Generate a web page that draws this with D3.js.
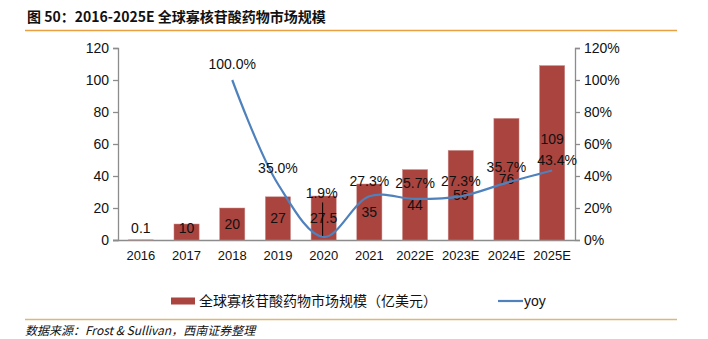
<!DOCTYPE html>
<html>
<head>
<meta charset="utf-8">
<script src="https://cdn.jsdelivr.net/npm/d3@7/dist/d3.min.js"></script>
<style>
  html, body { margin: 0; padding: 0; background: #fff; }
  svg { display: block; }
  text { font-family: "Liberation Sans", Arial, sans-serif; fill: #111; }
  .cjk { font-family: "Noto Sans CJK SC", "Noto Sans", sans-serif; }
</style>
</head>
<body>
<svg id="chart" width="708" height="339"></svg>
<script>
// Global oligonucleotide drug market size (USD 100M) and year-over-year growth
const years = ["2016", "2017", "2018", "2019", "2020", "2021", "2022E", "2023E", "2024E", "2025E"];
const marketSize = [0.1, 10, 20, 27, 27.5, 35, 44, 56, 76, 109];
const yoy = [null, null, 100.0, 35.0, 1.9, 27.3, 25.7, 27.3, 35.7, 43.4];
const leftTicks = [0, 20, 40, 60, 80, 100, 120];
const rightTicks = [0, 20, 40, 60, 80, 100, 120];

const svg = d3.select("#chart");
const margin = { left: 118, right: 133, top: 48, bottom: 99 };
const W = 708, H = 339;
const plotW = W - margin.left - margin.right;
const plotH = H - margin.top - margin.bottom;

const x = d3.scaleBand().domain(years).range([margin.left, margin.left + plotW]).paddingInner(0.45).paddingOuter(0.225);
const xc = d => x(d) + x.bandwidth() / 2;
const yL = d3.scaleLinear().domain([0, 120]).range([margin.top + plotH, margin.top]);
const yR = d3.scaleLinear().domain([0, 120]).range([margin.top + plotH, margin.top]);

// Title and rules
svg.append("text").attr("x", 27).attr("y", 22)
  .style("font-size", "14px").style("font-weight", "bold")
  .attr("class", "cjk")
  .text("图 50：2016-2025E 全球寡核苷酸药物市场规模");
svg.append("line").attr("x1", 25).attr("x2", 677).attr("y1", 30.5).attr("y2", 30.5)
  .attr("stroke", "#E8A040").attr("stroke-width", 1.5);
svg.append("line").attr("x1", 25).attr("x2", 677).attr("y1", 319.5).attr("y2", 319.5)
  .attr("stroke", "#DDB67A").attr("stroke-width", 1.5);

// Axes
const axisColor = "#8c8c8c";
const gL = svg.append("g").attr("transform", `translate(${margin.left},0)`)
  .call(d3.axisLeft(yL).tickValues(leftTicks).tickSize(5).tickPadding(4));
const gR = svg.append("g").attr("transform", `translate(${margin.left + plotW},0)`)
  .call(d3.axisRight(yR).tickValues(rightTicks).tickSize(5).tickPadding(4).tickFormat(d => d + "%"));
const gX = svg.append("g").attr("transform", `translate(0,${margin.top + plotH})`)
  .call(d3.axisBottom(x).tickSize(0).tickPadding(11));
[gL, gR, gX].forEach(g => {
  g.selectAll("path").attr("stroke", axisColor).attr("stroke-width", 1.3);
  g.selectAll("line").attr("stroke", axisColor).attr("stroke-width", 1.3);
  g.selectAll("text").style("font-size", "14px").style("font-family", "Liberation Sans, Arial, sans-serif").attr("fill", "#111");
});
gX.select("path").attr("d", `M${margin.left - 5},0.5H${margin.left + plotW}`);
gX.selectAll("text").style("font-size", "13px");

// Bars
svg.append("g").selectAll("rect").data(years).join("rect")
  .attr("x", d => x(d))
  .attr("width", x.bandwidth())
  .attr("y", (d, i) => yL(marketSize[i]))
  .attr("height", (d, i) => yL(0) - yL(marketSize[i]))
  .attr("fill", "#A9443F")
  .attr("stroke", "#c98a87").attr("stroke-width", 0.5);

// Bar value labels, centred in the bar; small bars keep the label just above the base
const barNudge = { "2025E": -14 };
svg.append("g").selectAll("text").data(years).join("text")
  .attr("x", d => xc(d))
  .attr("y", (d, i) => Math.min((yL(marketSize[i]) + yL(0)) / 2, yL(0) - 12) + (barNudge[d] || 0))
  .attr("dy", "0.35em")
  .attr("text-anchor", "middle")
  .style("font-size", "14px")
  .text((d, i) => marketSize[i]);

// YoY growth line
const pts = years.map((d, i) => ({ year: d, v: yoy[i] })).filter(p => p.v !== null);
const line = d3.line().x(p => xc(p.year)).y(p => yR(p.v)).curve(d3.curveCatmullRom.alpha(0.5));
svg.append("path").datum(pts).attr("d", line)
  .attr("fill", "none").attr("stroke", "#4F81BD").attr("stroke-width", 2.2);

// YoY labels, with a leader line where a label sits away from its point
const yoyNudge = { "2020": { dx: -2, dy: -28, leader: true }, "2025E": { dx: 5, dy: 5 } };
const gY = svg.append("g");
pts.forEach(p => {
  const n = yoyNudge[p.year] || { dx: 0, dy: 0 };
  const lx = xc(p.year) + n.dx, ly = yR(p.v) - 15.5 + n.dy;
  if (n.leader) {
    gY.append("line").attr("x1", lx + 1).attr("x2", lx + 1)
      .attr("y1", ly + 9).attr("y2", yR(p.v) - 1)
      .attr("stroke", "#000").attr("stroke-width", 1);
  }
  gY.append("text").attr("x", lx).attr("y", ly).attr("dy", "0.35em")
    .attr("text-anchor", "middle").style("font-size", "14px")
    .text(p.v.toFixed(1) + "%");
});

// Legend
const lg = svg.append("g");
lg.append("rect").attr("x", 171).attr("y", 297.5).attr("width", 24).attr("height", 7).attr("fill", "#A9443F");
lg.append("text").attr("class", "cjk").attr("x", 199).attr("y", 301).attr("dy", "0.35em")
  .style("font-size", "14px").text("全球寡核苷酸药物市场规模（亿美元）");
lg.append("line").attr("x1", 498).attr("x2", 523).attr("y1", 301).attr("y2", 301)
  .attr("stroke", "#4F81BD").attr("stroke-width", 2.2);
lg.append("text").attr("x", 524).attr("y", 301).attr("dy", "0.35em")
  .style("font-size", "14px").text("yoy");

// Source note
svg.append("text").attr("class", "cjk").attr("x", 25).attr("y", 331).attr("dy", "0.35em")
  .style("font-size", "12px").style("font-style", "italic").attr("fill", "#333")
  .text("数据来源：Frost & Sullivan，西南证券整理");
</script>
</body>
</html>
